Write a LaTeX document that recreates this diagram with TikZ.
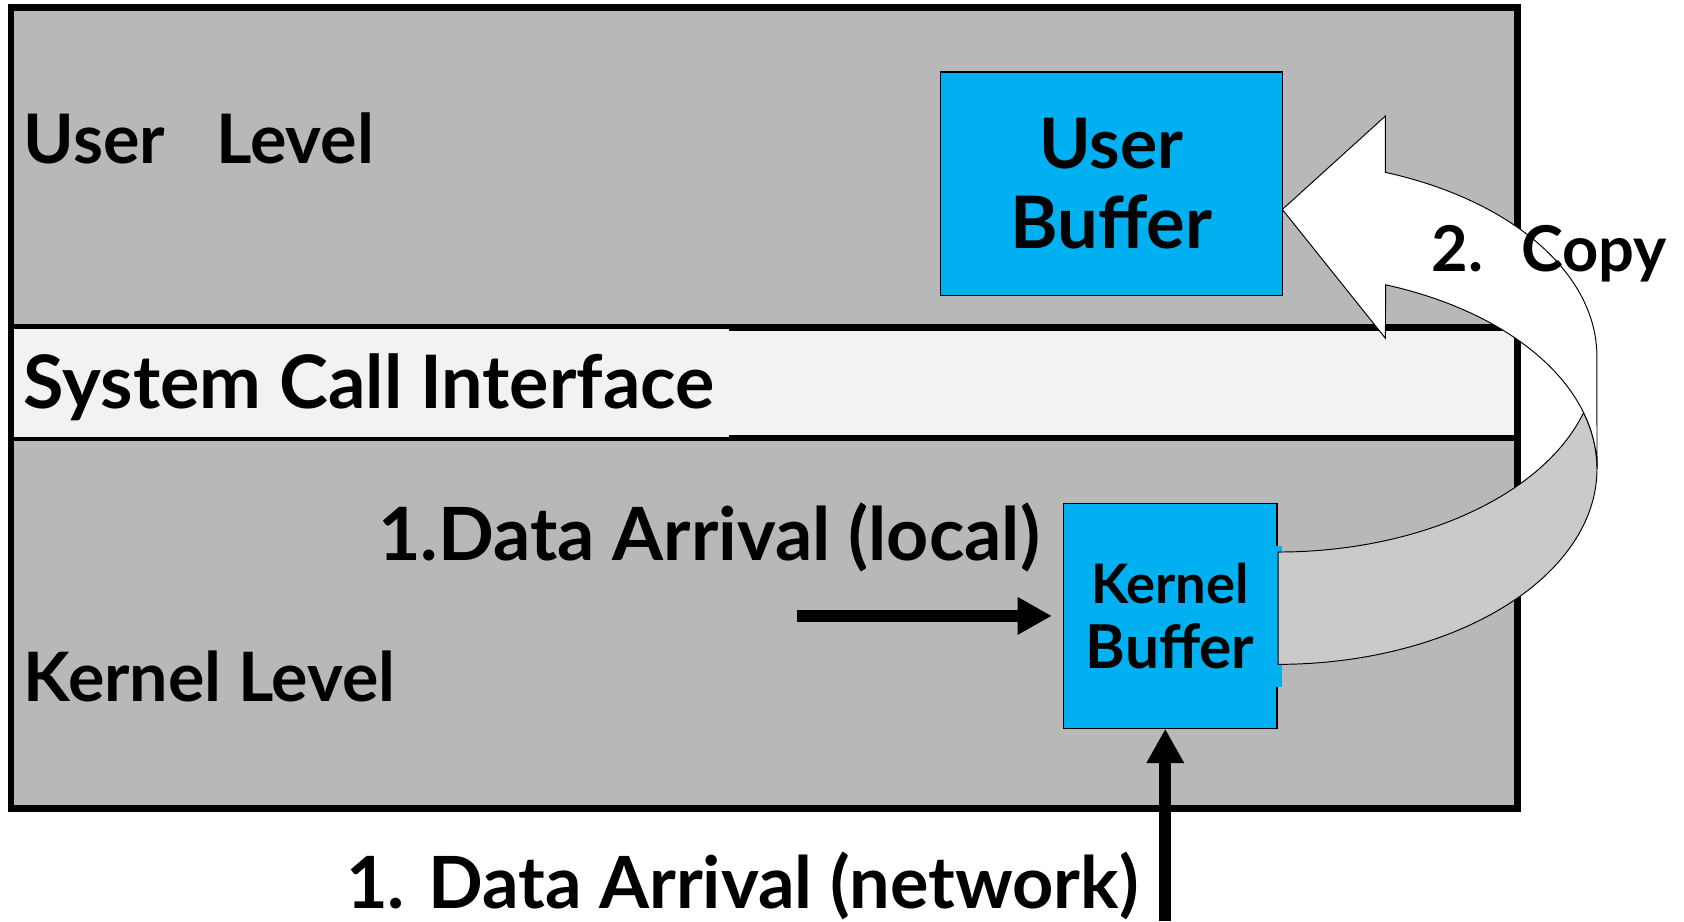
\documentclass[tikz,border=0pt]{standalone}
\usepackage{fontspec}
\setmainfont{Lato}
\usepackage{graphicx}
\usetikzlibrary{arrows.meta}
\definecolor{levelgray}{HTML}{B8B8B8}
\definecolor{sysgray}{HTML}{F2F2F2}
\definecolor{bufblue}{HTML}{00B0F0}
\definecolor{ribbongray}{HTML}{CACACA}
\newcommand\fitw[2]{\resizebox{#1pt}{!}{#2}}
\begin{document}
\begin{tikzpicture}[x=1pt,y=-1pt,
  lbl/.style={inner sep=0pt,anchor=base west,font=\bfseries,text=black},
  bufbox/.style={draw=black,line width=1.2pt,fill=bufblue,inner sep=0pt,align=center,text=black},
  ribbon/.style={draw=black,line width=0.9pt},
  fatarrow/.style={-{Triangle[length=32pt,width=33pt]},line width=11pt}
]
\useasboundingbox (0,0) rectangle (1568,858);
\fill[white] (0,0) rectangle (1568,858);
% levels
\fill[levelgray] (10,7) rectangle (1413,753);
\fill[sysgray] (10,305) rectangle (1413,408);
\draw[line width=6pt] (10,305) -- (1413,305) (10,408) -- (1413,408);
\fill[sysgray] (13,306.5) rectangle (679,406.5);
\draw[line width=6pt] (10,7) rectangle (1413,753);
% buffers
\node[bufbox,minimum width=318pt,minimum height=208pt,font={\bfseries\fontsize{50}{74}\selectfont}] (ubuf) at (1035,171)
  {\fitw{134}{User}\\\fitw{188}{Buffer}};
\node[bufbox,minimum width=199pt,minimum height=209pt,font={\bfseries\fontsize{40}{60}\selectfont}] (kbuf) at (1089.5,573.5)
  {\fitw{147}{Kernel}\\\fitw{157}{Buffer}};
\fill[bufblue] (1188,508) rectangle (1194,640);
% copy ribbon
\filldraw[ribbon,fill=ribbongray] (1190,514)
  arc[start angle=90,end angle=16.7,x radius=297,y radius=182]
  arc[start angle=-16.7,end angle=90,x radius=297,y radius=182] -- cycle;
\filldraw[ribbon,fill=white] (1290,108) -- (1290,160.5)
  arc[start angle=-70.3,end angle=0,x radius=297,y radius=182]
  -- (1487,436.5)
  arc[start angle=0,end angle=-70.3,x radius=297,y radius=182]
  -- (1290,315) -- (1194,195) -- cycle;
% labels
\node[lbl] (userlevel) at (22,152) {\fitw{326}{User\hspace{0.75em}Level}};
\node[lbl] (syscall) at (22,380) {\fitw{643}{System Call Interface}};
\node[lbl] (locallbl) at (352,522) {\fitw{616}{1.Data Arrival (local)}};
\node[lbl] (kernlevel) at (22,653) {\fitw{346}{Kernel Level}};
\node[lbl] (netlbl) at (322,846) {\fitw{738}{1. Data Arrival (network)}};
\node[lbl] (copylbl) at (1333,253) {\fitw{219}{2.\hspace{0.6em}Copy}};
% arrows
\coordinate (localstart) at (742,573.5);
\draw[fatarrow,shorten >=10pt] (localstart) -- (kbuf.west |- localstart);
\coordinate (netstart) at (1085,858);
\draw[fatarrow] (netstart) -- (netstart |- kbuf.south);
\end{tikzpicture}
\end{document}
